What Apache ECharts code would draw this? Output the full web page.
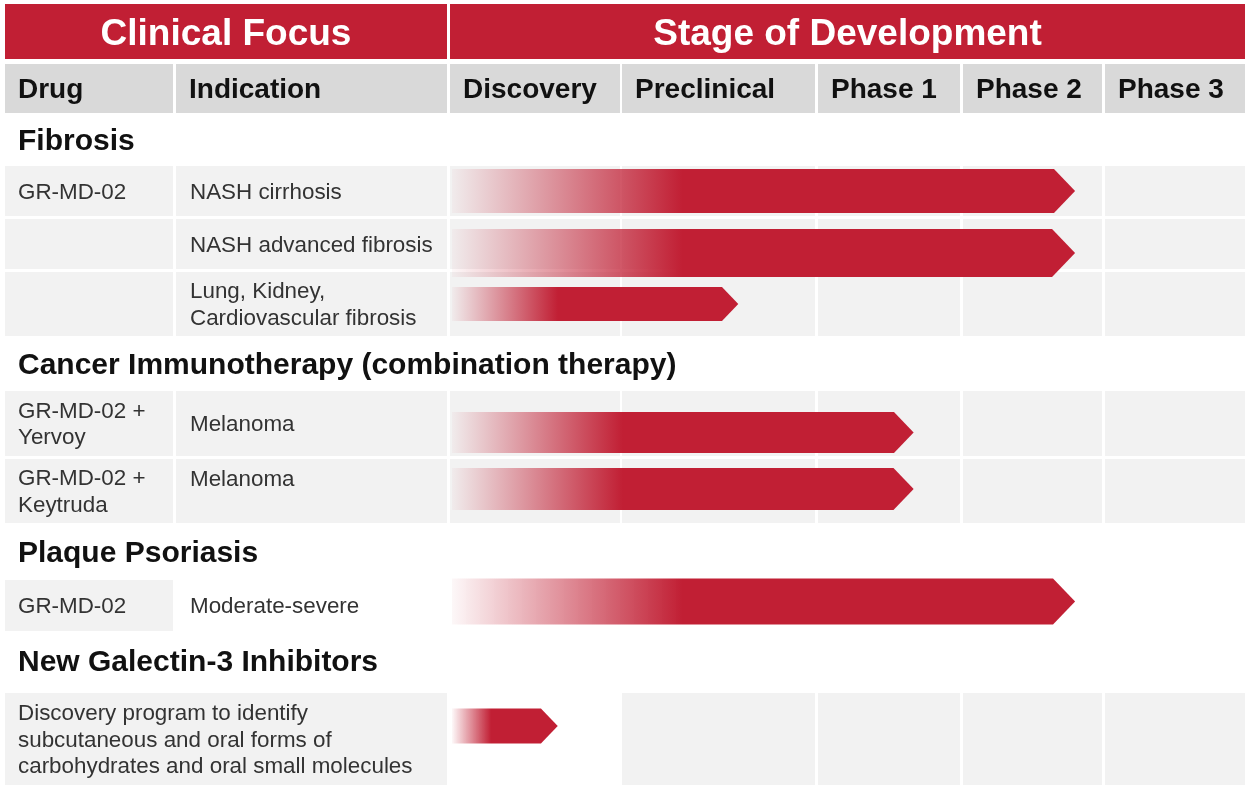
<!DOCTYPE html>
<html>
<head>
<meta charset="utf-8">
<script src="https://cdn.jsdelivr.net/npm/echarts@6/dist/echarts.min.js"></script>
<style>
  html, body { margin: 0; padding: 0; background: #fff; }
  #pipeline { width: 1250px; height: 792px; }
</style>
</head>
<body>
<div id="pipeline"></div>
<script>
// --- chart values ---
var headers = ['Clinical Focus', 'Stage of Development']
var stages = ['Discovery', 'Preclinical', 'Phase 1', 'Phase 2', 'Phase 3']
var sections = ['Fibrosis', 'Cancer Immunotherapy (combination therapy)', 'Plaque Psoriasis', 'New Galectin-3 Inhibitors']
var drugs = [
  'GR-MD-02',
  '',
  '',
  'GR-MD-02 +\nYervoy',
  'GR-MD-02 +\nKeytruda',
  'GR-MD-02',
  'Discovery program to identify\nsubcutaneous and oral forms of\ncarbohydrates and oral small molecules'
]
var indications = [
  'NASH cirrhosis',
  'NASH advanced fibrosis',
  'Lung, Kidney,\nCardiovascular fibrosis',
  'Melanoma',
  'Melanoma',
  'Moderate-severe',
  ''
]
// how far each programme has got, in stage units (0 = start of Discovery)
var progress = [3.8, 3.8, 1.6, 2.67, 2.67, 3.8, 0.63]

// --- layout (px) ---
var RED = '#c11f34'
var colDrug = [5, 173]
var colInd = [176, 447]
var stageCols = [[450, 620], [622, 815], [818, 960], [963, 1102], [1105, 1245]]
var stageEdges = [450, 621, 816.5, 961.5, 1103.5, 1245]
var rowBands = [[166, 216], [219, 269], [272, 336], [391, 456], [459, 523], [580, 631], [693, 785]]
// which cells of a row get the grey fill
var rowFill = ['all', 'all', 'all', 'all', 'all', 'drug', 'merged']
var indTop = [false, false, false, false, true, false, false]
var sectionY = [142, 366, 554, 663]
var barH = [44, 48, 34, 41, 42, 46, 35]
var barShift = [0, 9, 0, 9, -2, -4, -13]

function stageX(p) {
  var k = Math.min(Math.floor(p), stages.length - 1)
  return stageEdges[k] + (p - k) * (stageEdges[k + 1] - stageEdges[k])
}

function rect(x0, x1, y0, y1, fill) {
  return { type: 'rect', shape: { x: x0, y: y0, width: x1 - x0, height: y1 - y0 }, style: { fill: fill }, silent: true }
}
function label(txt, x, y, font, fill, align) {
  return {
    type: 'text', z: 10, silent: true,
    style: {
      text: txt, x: x, y: y, font: font, fill: fill,
      textAlign: align || 'left', textVerticalAlign: 'middle', lineHeight: 26.5
    }
  }
}

var FONT = '"Liberation Sans", Arial, sans-serif'
var gfx = []
// red top header
gfx.push(rect(colDrug[0], colInd[1], 4, 59, RED))
gfx.push(rect(stageCols[0][0], stageCols[4][1], 4, 59, RED))
gfx.push(label(headers[0], (colDrug[0] + colInd[1]) / 2, 35, 'bold 37px ' + FONT, '#fff', 'center'))
gfx.push(label(headers[1], (stageCols[0][0] + stageCols[4][1]) / 2, 35, 'bold 37px ' + FONT, '#fff', 'center'))
// grey column header
var colHeads = [['Drug', colDrug], ['Indication', colInd]]
stages.forEach(function (s, i) { colHeads.push([s, stageCols[i]]) })
colHeads.forEach(function (c) {
  gfx.push(rect(c[1][0], c[1][1], 64, 113, '#d9d9d9'))
  gfx.push(label(c[0], c[1][0] + 13, 90, 'bold 28px ' + FONT, '#111'))
})
// section titles
sections.forEach(function (s, i) {
  gfx.push(label(s, 18, sectionY[i], 'bold 30px ' + FONT, '#111'))
})
// table rows
rowBands.forEach(function (b, i) {
  var cy = (b[0] + b[1]) / 2
  var fill = '#f2f2f2'
  if (rowFill[i] === 'merged') {
    gfx.push(rect(colDrug[0], colInd[1], b[0], b[1], fill))
    stageCols.slice(1).forEach(function (c) { gfx.push(rect(c[0], c[1], b[0], b[1], fill)) })
  } else if (rowFill[i] === 'drug') {
    gfx.push(rect(colDrug[0], colDrug[1], b[0], b[1], fill))
  } else {
    gfx.push(rect(colDrug[0], colDrug[1], b[0], b[1], fill))
    gfx.push(rect(colInd[0], colInd[1], b[0], b[1], fill))
    stageCols.forEach(function (c) { gfx.push(rect(c[0], c[1], b[0], b[1], fill)) })
  }
  var bodyFont = '22.4px ' + FONT
  gfx.push(label(drugs[i], 18, cy + 1.5, bodyFont, '#333'))
  if (indications[i]) {
    gfx.push(label(indications[i], 190, indTop[i] ? cy - 11.5 : cy + 1.5, bodyFont, '#333'))
  }
})

var chart = echarts.init(document.getElementById('pipeline'))
var option = {
  animation: false,
  grid: { left: 0, right: 0, top: 0, bottom: 0 },
  xAxis: { type: 'value', min: 0, max: 1250, show: false },
  yAxis: { type: 'value', min: 0, max: 792, inverse: true, show: false },
  graphic: gfx,
  series: [
    {
      type: 'custom',
      z: 5,
      data: progress.map(function (p, i) { return [p, i] }),
      renderItem: function (params, api) {
        var i = api.value(1)
        var b = rowBands[i]
        var cy = (b[0] + b[1]) / 2 + barShift[i]
        var h = barH[i]
        var start = api.coord([452, cy - h / 2])
        var tip = api.coord([stageX(api.value(0)), cy])
        var bottom = api.coord([452, cy + h / 2])
        var head = h * 0.48
        return {
          type: 'polygon',
          shape: {
            points: [
              [start[0], start[1]],
              [tip[0] - head, start[1]],
              [tip[0], tip[1]],
              [tip[0] - head, bottom[1]],
              [start[0], bottom[1]]
            ]
          },
          style: {
            fill: new echarts.graphic.LinearGradient(0, 0, 1, 0, [
              { offset: 0, color: 'rgba(193,31,52,0.03)' },
              { offset: 0.37, color: RED },
              { offset: 1, color: RED }
            ])
          }
        }
      }
    }
  ]
}
option && chart.setOption(option)
</script>
</body>
</html>
